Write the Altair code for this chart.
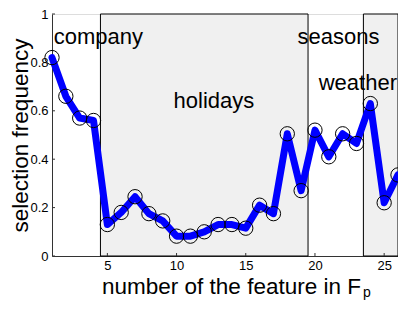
import altair as alt
import pandas as pd

features = list(range(1, 27))
freq = [0.82, 0.66, 0.57, 0.56, 0.13, 0.18, 0.245, 0.175, 0.145, 0.082,
        0.082, 0.10, 0.13, 0.13, 0.115, 0.21, 0.175, 0.505, 0.27, 0.52,
        0.41, 0.505, 0.465, 0.63, 0.22, 0.335]

region_start = [4.5, 23.5]
region_end = [19.5, 26]

label_text = ["company", "holidays", "seasons", "weather"]
label_x = [4.35, 12.7, 21.7, 23.1]
label_y = [0.877, 0.613, 0.877, 0.687]

x_ticks = [5, 10, 15, 20, 25]
y_ticks = [0, 0.2, 0.4, 0.6, 0.8, 1.0]

FONT = "Liberation Sans"
W, H = 346, 242

df = pd.DataFrame({"f": features, "v": freq})
regions = pd.DataFrame({"x0": region_start, "x1": region_end, "y0": [0, 0], "y1": [1, 1]})
labels = pd.DataFrame({"t": label_text, "x": label_x, "y": label_y})
xt = pd.DataFrame({"x": x_ticks})
yt = pd.DataFrame({"y": y_ticks})

xs = alt.Scale(domain=[1, 26], nice=False, zero=False)
ys = alt.Scale(domain=[0, 1], nice=False)

xaxis = alt.Axis(values=x_ticks, grid=False, tickSize=0, labelPadding=3,
                 labelFontSize=13, labelFont=FONT, labelColor="black",
                 domainColor="#333", title="number of the feature in F",
                 titleFont=FONT, titleFontSize=22.5, titleFontWeight="normal",
                 titleColor="black", titleBaseline="alphabetic",
                 titleX=179, titleY=37, titleAnchor="start", titleAlign="center")
yaxis = alt.Axis(values=y_ticks, grid=False, tickSize=0, labelPadding=4,
                 labelFontSize=13, labelFont=FONT, labelColor="black",
                 format="~g", domainColor="#333", title="selection frequency",
                 titleFont=FONT, titleFontSize=22.5, titleFontWeight="normal",
                 titleColor="black", titleBaseline="alphabetic",
                 titleX=-25, titleY=121, titleAngle=-90, titleAlign="center",
                 titleAnchor="start")

rects = alt.Chart(regions).mark_rect(fill="#f0f0f0", stroke="black", strokeWidth=1).encode(
    x=alt.X("x0:Q", scale=xs, axis=xaxis),
    x2="x1:Q",
    y=alt.Y("y0:Q", scale=ys, axis=yaxis),
    y2="y1:Q",
)

line = alt.Chart(df).mark_line(color="#0000ff", strokeWidth=7, strokeJoin="round",
                               strokeCap="round").encode(
    x=alt.X("f:Q", scale=xs), y=alt.Y("v:Q", scale=ys))

pts = alt.Chart(df).mark_point(shape="circle", filled=False, stroke="black",
                               strokeWidth=1, size=205, opacity=1).encode(
    x=alt.X("f:Q", scale=xs), y=alt.Y("v:Q", scale=ys))

txt = alt.Chart(labels).mark_text(font=FONT, fontSize=22, color="black",
                                  align="center", baseline="alphabetic").encode(
    x=alt.X("x:Q", scale=xs), y=alt.Y("y:Q", scale=ys), text="t:N")

xtick = alt.Chart(xt).mark_rule(color="#333", strokeWidth=1).encode(
    x=alt.X("x:Q", scale=xs), y=alt.value(H), y2=alt.value(H - 3))
ytick = alt.Chart(yt).mark_rule(color="#333", strokeWidth=1).encode(
    y=alt.Y("y:Q", scale=ys), x=alt.value(0), x2=alt.value(3))

sub = alt.Chart(pd.DataFrame({"s": ["p"]})).mark_text(
    font=FONT, fontSize=14, color="black", align="left", baseline="alphabetic").encode(
    text="s:N", x=alt.value(311), y=alt.value(283))

chart = alt.layer(rects, xtick, ytick, line, pts, txt, sub).properties(
    width=W, height=H,
    autosize=alt.AutoSizeParams(type="none"),
    padding={"left": 44, "top": 6, "right": 0, "bottom": 45},
).configure_view(stroke=None).configure(background="white")

chart.save("out.html", embed_options={"renderer": "svg", "actions": False})
